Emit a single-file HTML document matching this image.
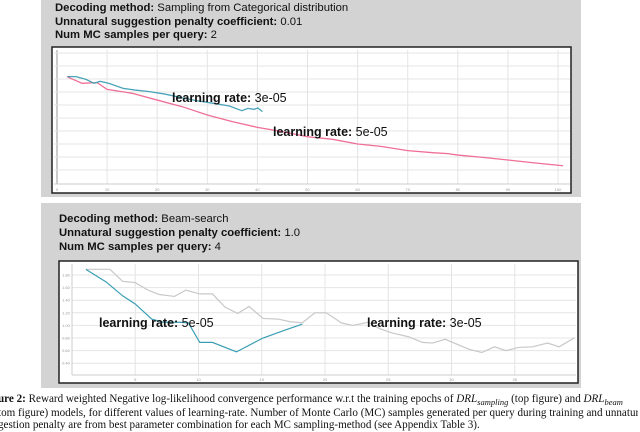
<!DOCTYPE html>
<html><head><meta charset="utf-8">
<style>
body{margin:0;width:640px;height:432px;overflow:hidden;background:#fff;font-family:"Liberation Sans",Arial,sans-serif;position:relative}
.panel{position:absolute;left:41px;width:540px;background:#d3d3d3}
.hdr{position:absolute;left:55px;font-size:11.3px;color:#111;white-space:nowrap;line-height:13px}
.hdr b{font-weight:bold}
.cap{position:absolute;left:0;width:640px;font-family:"Liberation Serif",serif;font-size:11.1px;white-space:nowrap;overflow:hidden;color:#111;line-height:12px}
svg{position:absolute;left:0;top:0}
</style></head><body>
<div class="panel" style="top:0;height:197px"></div>
<div class="panel" style="top:203px;height:185px"></div>
<div class="hdr" style="top:2px"><b>Decoding method:</b> Sampling from Categorical distribution</div>
<div class="hdr" style="top:16px"><b>Unnatural suggestion penalty coefficient:</b> 0.01</div>
<div class="hdr" style="top:29px"><b>Num MC samples per query:</b> 2</div>
<div class="hdr" style="top:213px;left:59px"><b>Decoding method:</b> Beam-search</div>
<div class="hdr" style="top:227px;left:59px"><b>Unnatural suggestion penalty coefficient:</b> 1.0</div>
<div class="hdr" style="top:241px;left:59px"><b>Num MC samples per query:</b> 4</div>
<svg id="chart" width="640" height="432"></svg>
<div class="cap" style="top:393px;left:-2px"><b>ure 2:</b> Reward weighted Negative log-likelihood convergence performance w.r.t the training epochs of <i>DRL<sub style="font-size:8.5px">sampling</sub></i> (top figure) and <i>DRL<sub style="font-size:8.5px">beam</sub></i></div>
<div class="cap" style="top:407px;left:-2px">tom figure) models, for different values of learning-rate. Number of Monte Carlo (MC) samples generated per query during training and unnatural</div>
<div class="cap" style="top:419px;left:-2px">gestion penalty are from best parameter combination for each MC sampling-method (see Appendix Table 3).</div>
<script>
// top chart data
const topXTicks=[0,10,20,30,40,50,60,70,80,90,100];
const topYGrid=[1,2,3,4,5,6,7,8,9,10];
const pinkX=[2,5,8,10,15,20,25,30,35,40,45,50,55,60,65,70,75,78,80,85,90,95,101];
const pinkY=[8.18,7.67,7.72,7.2,6.9,6.38,5.87,5.23,4.72,4.28,3.95,3.56,3.36,3.0,2.8,2.49,2.33,2.26,2.15,1.97,1.77,1.56,1.33];
const blueX=[2.1,3.8,5.8,7.4,8.6,10.3,13.2,15.6,18.1,21.4,24.6,27.9,31.2,34.4,36.9,38.1,39.3,40.1,41];
const blueY=[8.18,8.18,7.97,7.67,7.82,7.67,7.28,7.15,7.05,6.85,6.59,6.33,6.13,5.92,5.56,5.74,5.67,5.77,5.49];
// bottom chart data
const botXTicks=[5,10,15,20,25,30,35];
const botYTicks=["1.80","1.60","1.40","1.20","1.00","0.80","0.60","0.40"];
const greyX=[1.1,3.0,4.0,5.0,6.0,6.9,8.1,9.0,10.1,11.1,12.1,13.1,14.0,15.1,16.3,17.2,18.2,19.2,20.1,21.3,22.2,23.4,24.3,25.3,26.6,27.7,28.5,29.5,30.8,31.4,32.4,33.4,34.3,35.3,36.4,37.6,38.5,39.7];
const greyY=[1.89,1.89,1.70,1.68,1.56,1.49,1.46,1.56,1.50,1.50,1.29,1.19,1.30,1.11,1.10,1.06,1.04,1.20,1.20,1.04,1.00,1.05,0.95,0.88,0.82,0.73,0.72,0.78,0.67,0.62,0.57,0.66,0.60,0.65,0.66,0.72,0.66,0.80];
const tealX=[1.1,2.7,4.0,5.0,6.3,7.2,8.5,9.2,10.1,11.1,13.0,15.1,16.9,18.2];
const tealY=[1.89,1.69,1.47,1.34,1.10,1.05,1.05,1.04,0.73,0.73,0.58,0.80,0.93,1.02];

const svg=document.getElementById('chart');
const NS='http://www.w3.org/2000/svg';
function mk(tag,attrs){const e=document.createElementNS(NS,tag);for(const k in attrs)e.setAttribute(k,attrs[k]);svg.appendChild(e);return e;}
const tx=v=>57+v*5.01, ty=v=>183-v*13;
const bx=v=>72+v*12.65, by=v=>275+(1.8-v)/0.2*12.6;

let r=mk('rect',{x:52,y:47,width:519,height:146,fill:'#fff',stroke:'#222','stroke-width':1.5});

topXTicks.forEach(t=>{
 const l=mk('line',{x1:tx(t),x2:tx(t),y1:50,y2:184,stroke:t===0?'#ccc':'#e4e4e4','stroke-width':t===0?2:1});
 
 const s=mk('text',{x:tx(t),y:191,'font-size':4,'text-anchor':'middle',fill:'#999'});s.textContent=t;
 
});
topYGrid.forEach(t=>{
 const l=mk('line',{x1:54,x2:570,y1:ty(t),y2:ty(t),stroke:'#e4e4e4'});
 
});
let ax=mk('line',{x1:54,x2:570,y1:184,y2:184,stroke:'#ccc'});
function line(xs,ys,fx,fy,col,name,w){const p=mk('polyline',{points:xs.map((x,i)=>fx(x)+','+fy(ys[i])).join(' '),fill:'none',stroke:col,'stroke-width':w});return p;}
line(pinkX,pinkY,tx,ty,'#ef6f96','top-series-5e-05',1.3);
line(blueX,blueY,tx,ty,'#4aa3b8','top-series-3e-05',1.3);
function lbl(x,y,val,n){const t=mk('text',{x:x,y:y,'font-size':12.5,fill:'#111'});t.innerHTML='<tspan font-weight="bold">learning rate:</tspan> '+val;}
lbl(172,102,'3e-05','top-label-3e-05');
lbl(273,136,'5e-05','top-label-5e-05');

r=mk('rect',{x:59,y:261,width:519,height:122,fill:'#fff',stroke:'#222','stroke-width':1.5});

botXTicks.forEach(t=>{
 const l=mk('line',{x1:bx(t),x2:bx(t),y1:264,y2:375,stroke:'#e4e4e4'});
 
 const s=mk('text',{x:bx(t),y:381,'font-size':4,'text-anchor':'middle',fill:'#999'});s.textContent=t;
 
});
botYTicks.forEach(t=>{
 const v=parseFloat(t);
 const l=mk('line',{x1:72,x2:576,y1:by(v),y2:by(v),stroke:'#e4e4e4'});
 
 const s=mk('text',{x:66,y:by(v)+1.5,'font-size':4,'text-anchor':'middle',fill:'#999'});s.textContent=t;
 
});
ax=mk('line',{x1:72,x2:576,y1:375,y2:375,stroke:'#ccc'});
ax=mk('line',{x1:72,x2:72,y1:264,y2:375,stroke:'#ccc'});
line(greyX,greyY,bx,by,'#c8c8c8','bottom-series-3e-05',1.2);
line(tealX,tealY,bx,by,'#3a9fb5','bottom-series-5e-05',1.2);
lbl(99,327,'5e-05','bottom-label-5e-05');
lbl(367,327,'3e-05','bottom-label-3e-05');
</script>
</body></html>
